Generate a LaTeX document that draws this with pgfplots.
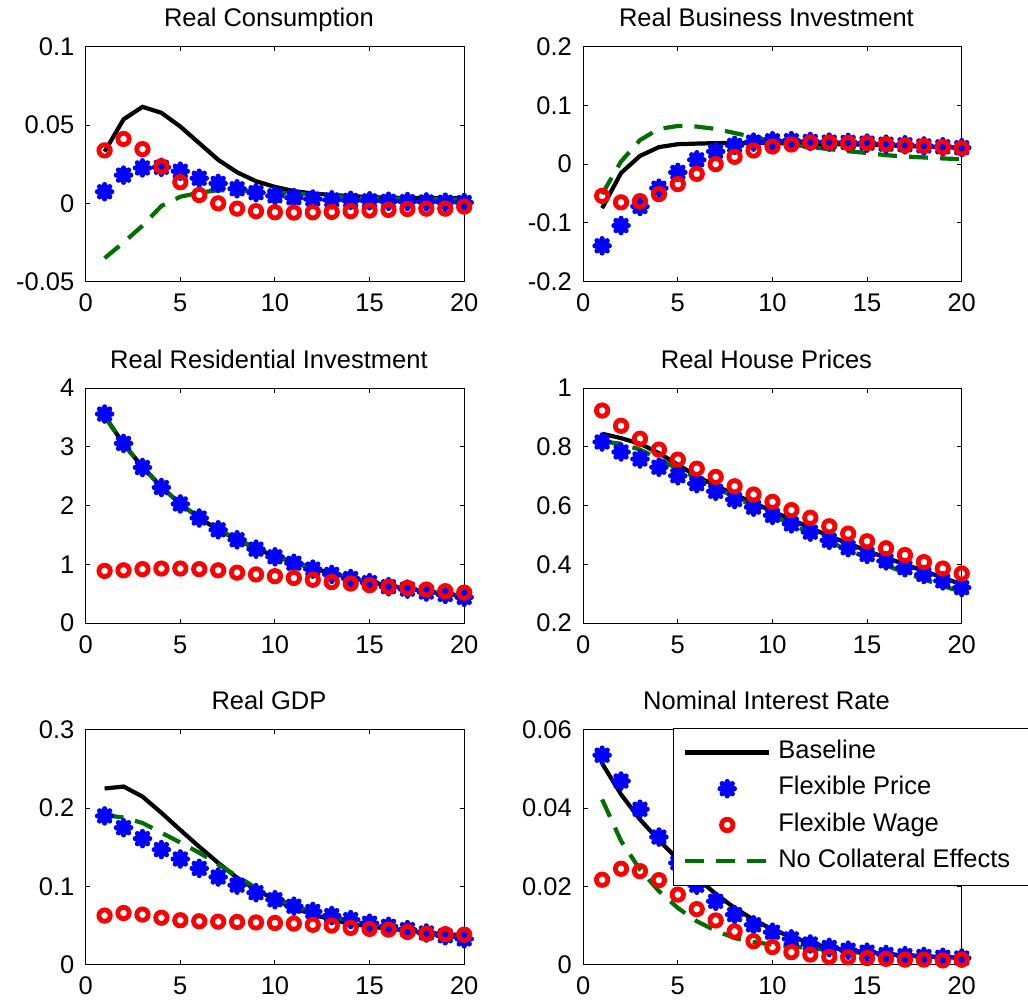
\documentclass[border=0pt]{standalone}
\usepackage{fontspec}
\setmainfont{Liberation Sans}
\usepackage{pgfplots}
\pgfplotsset{compat=1.18}
\usepgfplotslibrary{groupplots}
\usetikzlibrary{calc}
\definecolor{mgreen}{rgb}{0,0.43,0}
\pgfdeclareplotmark{mstar}{%
  \pgfpathmoveto{\pgfqpoint{-\pgfplotmarksize}{0pt}}\pgfpathlineto{\pgfqpoint{\pgfplotmarksize}{0pt}}%
  \pgfpathmoveto{\pgfqpoint{0pt}{-\pgfplotmarksize}}\pgfpathlineto{\pgfqpoint{0pt}{\pgfplotmarksize}}%
  \pgfpathmoveto{\pgfqpoint{-0.7071\pgfplotmarksize}{-0.7071\pgfplotmarksize}}\pgfpathlineto{\pgfqpoint{0.7071\pgfplotmarksize}{0.7071\pgfplotmarksize}}%
  \pgfpathmoveto{\pgfqpoint{-0.7071\pgfplotmarksize}{0.7071\pgfplotmarksize}}\pgfpathlineto{\pgfqpoint{0.7071\pgfplotmarksize}{-0.7071\pgfplotmarksize}}%
  \pgfusepathqstroke}
\pgfplotsset{
  base/.style={black, line width=2.1pt, no markers},
  fprice/.style={only marks, mark=mstar, mark size=3.6pt, blue, mark options={line width=2.6pt, line cap=round, solid}},
  fwage/.style={only marks, mark=o, mark size=2.85pt, red, mark options={line width=2.4pt, solid}},
  nocoll/.style={mgreen, line width=2.1pt, dash pattern=on 9.5pt off 6pt, no markers},
}
\begin{document}
\begin{tikzpicture}[font=\fontsize{12.75}{15}\selectfont]
\begin{groupplot}[
  group style={group name=G, group size=2 by 3, horizontal sep=59.5pt, vertical sep=53.3pt},
  width=189.3pt, height=117.5pt, scale only axis,
  xmin=0, xmax=20, xtick={0,5,10,15,20},
  tick align=inside, major tick length=2.2pt,
  axis line style={line width=0.5pt},
  every tick/.style={black, line width=0.5pt},
  /pgf/number format/assume math mode=true,
  scaled y ticks=false,
  clip=false,
  title style={at={(0.5,1)}, anchor=base, yshift=4pt, xshift=-3pt, inner sep=0pt},
  yticklabel style={inner sep=0pt, anchor=east, xshift=-5.5pt},
  xticklabel style={inner sep=0pt, anchor=north, yshift=-6pt},
  legend image code/.code={\draw[mark repeat=2,mark phase=2,#1] plot coordinates {(0pt,0pt) (21pt,0pt) (42pt,0pt)};},
]
% ---------- Real Consumption
\nextgroupplot[title={Real Consumption}, ymin=-0.05, ymax=0.1,
  ytick={-0.05,0,0.05,0.1}, yticklabels={-0.05,0,0.05,0.1}]
\addplot[base] coordinates {(1,0.033)(2,0.0536)(3,0.0616)(4,0.0578)(5,0.049)(6,0.0384)(7,0.0278)(8,0.0198)(9,0.0141)(10,0.0105)(11,0.0078)(12,0.0063)(13,0.0053)(14,0.0046)(15,0.004)(16,0.0036)(17,0.0034)(18,0.0033)(19,0.0032)(20,0.0032)};
\addplot[fprice] coordinates {(1,0.0074)(2,0.018)(3,0.0226)(4,0.023)(5,0.0205)(6,0.016)(7,0.0127)(8,0.0093)(9,0.0068)(10,0.0048)(11,0.0036)(12,0.0027)(13,0.0022)(14,0.0019)(15,0.0016)(16,0.0013)(17,0.0011)(18,0.0009)(19,0.0007)(20,0.0005)};
\addplot[fwage] coordinates {(1,0.0338)(2,0.0411)(3,0.0346)(4,0.0236)(5,0.0135)(6,0.0053)(7,0.0)(8,-0.0034)(9,-0.005)(10,-0.0057)(11,-0.0059)(12,-0.0057)(13,-0.0055)(14,-0.005)(15,-0.0046)(16,-0.0042)(17,-0.0036)(18,-0.0034)(19,-0.0034)(20,-0.0021)};
\addplot[nocoll] coordinates {(1,-0.035)(2,-0.025)(3,-0.0143)(4,-0.0017)(5,0.0042)(6,0.0068)(7,0.0084)(8,0.0082)(9,0.0078)(10,0.007)(11,0.0063)(12,0.0055)(13,0.0046)(14,0.004)(15,0.0036)(16,0.0032)(17,0.003)(18,0.0027)(19,0.0025)(20,0.0024)};
% ---------- Real Business Investment
\nextgroupplot[title={Real Business Investment}, ymin=-0.2, ymax=0.2,
  ytick={-0.2,-0.1,0,0.1,0.2}, yticklabels={-0.2,-0.1,0,0.1,0.2}]
\addplot[base] coordinates {(1,-0.075)(2,-0.015)(3,0.014)(4,0.029)(5,0.034)(6,0.035)(7,0.0358)(8,0.036)(9,0.036)(10,0.036)(11,0.0355)(12,0.035)(13,0.034)(14,0.034)(15,0.033)(16,0.032)(17,0.031)(18,0.030)(19,0.029)(20,0.028)};
\addplot[fprice] coordinates {(1,-0.139)(2,-0.1045)(3,-0.072)(4,-0.041)(5,-0.014)(6,0.0074)(7,0.0216)(8,0.032)(9,0.0375)(10,0.0398)(11,0.040)(12,0.0386)(13,0.0375)(14,0.037)(15,0.0358)(16,0.034)(17,0.033)(18,0.031)(19,0.0295)(20,0.028)};
\addplot[fwage] coordinates {(1,-0.054)(2,-0.065)(3,-0.063)(4,-0.051)(5,-0.034)(6,-0.0165)(7,0.0)(8,0.0125)(9,0.0233)(10,0.030)(11,0.0335)(12,0.037)(13,0.037)(14,0.036)(15,0.036)(16,0.034)(17,0.032)(18,0.031)(19,0.029)(20,0.027)};
\addplot[nocoll] coordinates {(1,-0.051)(2,0.0045)(3,0.041)(4,0.060)(5,0.065)(6,0.064)(7,0.060)(8,0.053)(9,0.046)(10,0.040)(11,0.034)(12,0.029)(13,0.0256)(14,0.022)(15,0.019)(16,0.0153)(17,0.013)(18,0.0114)(19,0.0097)(20,0.0085)};
% ---------- Real Residential Investment
\nextgroupplot[title={Real Residential Investment}, ymin=0, ymax=4,
  ytick={0,1,2,3,4}, yticklabels={0,1,2,3,4}]
\addplot[base] coordinates {(1,3.53)(2,3.05)(3,2.66)(4,2.32)(5,2.03)(6,1.79)(7,1.59)(8,1.42)(9,1.27)(10,1.14)(11,1.03)(12,0.93)(13,0.85)(14,0.77)(15,0.70)(16,0.64)(17,0.59)(18,0.54)(19,0.50)(20,0.46)};
\addplot[fprice] coordinates {(1,3.56)(2,3.06)(3,2.65)(4,2.31)(5,2.03)(6,1.79)(7,1.59)(8,1.42)(9,1.26)(10,1.13)(11,1.02)(12,0.92)(13,0.83)(14,0.76)(15,0.69)(16,0.62)(17,0.58)(18,0.53)(19,0.49)(20,0.44)};
\addplot[fwage] coordinates {(1,0.89)(2,0.90)(3,0.92)(4,0.93)(5,0.93)(6,0.92)(7,0.90)(8,0.86)(9,0.83)(10,0.80)(11,0.77)(12,0.74)(13,0.70)(14,0.675)(15,0.647)(16,0.62)(17,0.60)(18,0.573)(19,0.545)(20,0.52)};
\addplot[nocoll] coordinates {(1,3.52)(2,3.05)(3,2.66)(4,2.32)(5,2.03)(6,1.80)(7,1.60)(8,1.43)(9,1.28)(10,1.15)(11,1.04)(12,0.94)(13,0.85)(14,0.77)(15,0.70)(16,0.64)(17,0.59)(18,0.54)(19,0.50)(20,0.46)};
% ---------- Real House Prices
\nextgroupplot[title={Real House Prices}, ymin=0.2, ymax=1,
  ytick={0.2,0.4,0.6,0.8,1}, yticklabels={0.2,0.4,0.6,0.8,1}]
\addplot[base] coordinates {(1,0.845)(2,0.830)(3,0.811)(4,0.779)(5,0.740)(6,0.700)(7,0.668)(8,0.638)(9,0.610)(10,0.581)(11,0.553)(12,0.525)(13,0.496)(14,0.472)(15,0.446)(16,0.423)(17,0.400)(18,0.378)(19,0.355)(20,0.332)};
\addplot[fprice] coordinates {(1,0.817)(2,0.783)(3,0.759)(4,0.731)(5,0.702)(6,0.675)(7,0.649)(8,0.621)(9,0.595)(10,0.567)(11,0.538)(12,0.510)(13,0.482)(14,0.457)(15,0.434)(16,0.412)(17,0.389)(18,0.366)(19,0.344)(20,0.321)};
\addplot[fwage] coordinates {(1,0.924)(2,0.872)(3,0.828)(4,0.791)(5,0.757)(6,0.726)(7,0.698)(8,0.666)(9,0.638)(10,0.613)(11,0.585)(12,0.559)(13,0.530)(14,0.505)(15,0.479)(16,0.455)(17,0.432)(18,0.408)(19,0.386)(20,0.369)};
\addplot[nocoll] coordinates {(1,0.819)(2,0.811)(3,0.791)(4,0.759)(5,0.725)(6,0.694)(7,0.661)(8,0.630)(9,0.598)(10,0.567)(11,0.536)(12,0.508)(13,0.477)(14,0.449)(15,0.423)(16,0.397)(17,0.372)(18,0.349)(19,0.327)(20,0.306)};
% ---------- Real GDP
\nextgroupplot[title={Real GDP}, ymin=0, ymax=0.3,
  ytick={0,0.1,0.2,0.3}, yticklabels={0,0.1,0.2,0.3}]
\addplot[base] coordinates {(1,0.225)(2,0.2275)(3,0.2147)(4,0.194)(5,0.172)(6,0.1507)(7,0.130)(8,0.111)(9,0.096)(10,0.083)(11,0.0726)(12,0.064)(13,0.0576)(14,0.052)(15,0.049)(16,0.046)(17,0.0435)(18,0.041)(19,0.039)(20,0.0376)};
\addplot[fprice] coordinates {(1,0.190)(2,0.175)(3,0.161)(4,0.147)(5,0.135)(6,0.123)(7,0.112)(8,0.1016)(9,0.092)(10,0.083)(11,0.0747)(12,0.068)(13,0.0627)(14,0.0576)(15,0.053)(16,0.049)(17,0.0448)(18,0.0405)(19,0.037)(20,0.033)};
\addplot[fwage] coordinates {(1,0.0627)(2,0.066)(3,0.064)(4,0.060)(5,0.0568)(6,0.0555)(7,0.055)(8,0.0546)(9,0.054)(10,0.0533)(11,0.0525)(12,0.051)(13,0.050)(14,0.047)(15,0.0457)(16,0.0448)(17,0.0418)(18,0.0397)(19,0.039)(20,0.0384)};
\addplot[nocoll] coordinates {(1,0.191)(2,0.188)(3,0.181)(4,0.1686)(5,0.156)(6,0.143)(7,0.128)(8,0.113)(9,0.098)(10,0.085)(11,0.0755)(12,0.067)(13,0.061)(14,0.0563)(15,0.051)(16,0.047)(17,0.0427)(18,0.039)(19,0.036)(20,0.034)};
% ---------- Nominal Interest Rate
\nextgroupplot[title={Nominal Interest Rate}, ymin=0, ymax=0.06,
  ytick={0,0.02,0.04,0.06}, yticklabels={0,0.02,0.04,0.06},
  legend cell align=left,
  legend style={at={(0.2363,1.0085)}, anchor=north west, draw=black, line width=0.5pt, fill=white,
    font=\fontsize{12.75}{15}\selectfont, inner xsep=5pt, inner ysep=3pt, row sep=0pt,
    /tikz/every odd column/.append style={column sep=1.5pt},
    nodes={inner sep=2pt, text height=10.2pt, text depth=3.95pt}}]
\addplot[base] coordinates {(1,0.0514)(2,0.0435)(3,0.0371)(4,0.0318)(5,0.0269)(6,0.0222)(7,0.0181)(8,0.0145)(9,0.0115)(10,0.009)(11,0.0071)(12,0.0055)(13,0.0044)(14,0.0037)(15,0.0032)(16,0.0027)(17,0.0024)(18,0.0021)(19,0.002)(20,0.0018)};
\addlegendentry{Baseline}
\addplot[fprice] coordinates {(1,0.0535)(2,0.0469)(3,0.0397)(4,0.0326)(5,0.026)(6,0.0203)(7,0.0162)(8,0.0128)(9,0.0102)(10,0.0083)(11,0.0066)(12,0.0053)(13,0.0044)(14,0.0037)(15,0.0032)(16,0.0026)(17,0.0023)(18,0.0021)(19,0.0019)(20,0.0017)};
\addlegendentry{Flexible Price}
\addplot[fwage] coordinates {(1,0.0217)(2,0.0245)(3,0.0239)(4,0.0216)(5,0.0179)(6,0.0142)(7,0.0113)(8,0.0085)(9,0.006)(10,0.0045)(11,0.0032)(12,0.0026)(13,0.002)(14,0.0019)(15,0.0017)(16,0.0015)(17,0.0013)(18,0.0013)(19,0.0011)(20,0.0013)};
\addlegendentry{Flexible Wage}
\addplot[nocoll] coordinates {(1,0.0422)(2,0.0316)(3,0.0243)(4,0.0188)(5,0.0145)(6,0.0111)(7,0.0087)(8,0.0068)(9,0.0058)(10,0.0051)(11,0.0047)(12,0.0042)(13,0.0037)(14,0.0032)(15,0.003)(16,0.0027)(17,0.0025)(18,0.0022)(19,0.002)(20,0.0019)};
\addlegendentry{No Collateral Effects\hspace*{5pt}}
\end{groupplot}
\pgfresetboundingbox
\path[use as bounding box] ($(G c1r1.north west)+(-42.85pt,23.35pt)$) rectangle ($(G c2r3.south east)+(33.15pt,-20pt)$);
\end{tikzpicture}
\end{document}
